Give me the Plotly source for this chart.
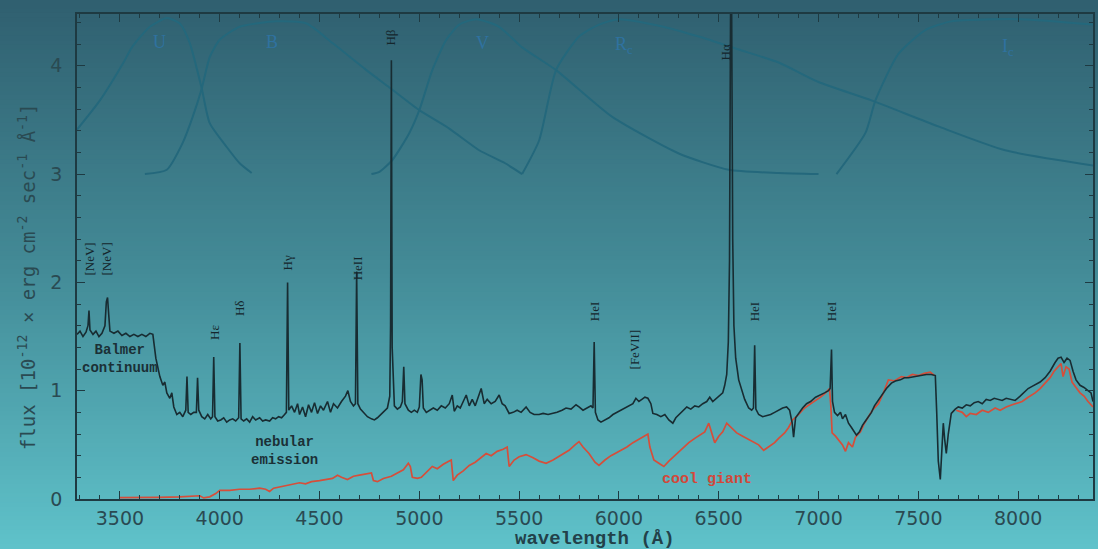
import plotly.graph_objects as go

# ---------------- data ----------------
spec_wl = [3285,3300,3315,3330,3340,3345,3350,3365,3380,3395,3410,3425,3432,3438,3444,3450,3470,3490,3510,3530,
           3550,3570,3590,3610,3630,3650,3665,3680,3700,3715,3725,3735,3750,3760,3770,3785,3800,3815,3830,3836,
           3842,3855,3870,3883,3889,3895,3910,3925,3940,3955,3964,3970,3976,3990,4005,4020,4035,4050,4065,4080,
           4095,4101,4107,4120,4135,4150,4165,4180,4200,4215,4230,4250,4265,4280,4295,4310,4325,4334,4340,4346,
           4360,4375,4390,4400,4415,4430,4445,4460,4475,4490,4505,4520,4540,4555,4570,4590,4610,4630,4642,4655,
           4670,4680,4686,4692,4705,4720,4740,4760,4775,4790,4805,4820,4840,4852,4856,4860,4864,4875,4890,4905,
           4915,4922,4928,4945,4960,4975,4990,5000,5008,5014,5020,5035,5050,5070,5090,5110,5130,5150,5165,5175,
           5190,5205,5220,5235,5250,5265,5280,5295,5310,5325,5340,5360,5380,5400,5415,5430,5450,5470,5490,5510,
           5535,5555,5575,5600,5620,5645,5665,5690,5715,5735,5760,5785,5800,5820,5840,5860,5870,5876,5882,5895,
           5910,5930,5950,5970,5990,6010,6030,6050,6070,6085,6100,6115,6130,6145,6160,6170,6190,6210,6230,6250,
           6270,6285,6300,6320,6340,6360,6380,6400,6420,6440,6455,6470,6490,6505,6520,6530,6540,6548,6554,6558,
           6562,6566,6570,6576,6585,6600,6615,6630,6650,6665,6674,6680,6686,6700,6720,6740,6760,6780,6800,6820,
           6840,6855,6868,6875,6885,6900,6920,6940,6960,6985,7010,7030,7050,7058,7065,7070,7080,7095,7110,7120,
           7135,7150,7165,7180,7190,7205,7220,7235,7250,7265,7280,7300,7320,7340,7365,7385,7410,7430,7450,7480,
           7510,7540,7565,7585,7592,7600,7610,7618,7625,7632,7640,7650,7665,7685,7700,7720,7740,7760,7780,7800,
           7820,7840,7860,7880,7900,7920,7940,7960,7985,8010,8030,8050,8070,8090,8110,8135,8160,8185,8200,8215,
           8230,8245,8260,8275,8290,8310,8330,8350,8365,8375]
spec_flux = [1.52,1.55,1.50,1.54,1.60,1.74,1.56,1.52,1.55,1.50,1.53,1.60,1.82,1.86,1.70,1.55,1.53,1.55,1.51,1.53,
             1.50,1.52,1.50,1.52,1.50,1.53,1.52,1.30,1.13,1.05,1.08,0.98,0.93,0.98,0.85,0.78,0.80,0.76,0.82,1.13,
             0.80,0.78,0.80,0.80,1.12,0.82,0.76,0.74,0.78,0.74,0.76,1.31,0.76,0.72,0.73,0.75,0.71,0.73,0.74,0.72,
             0.75,1.44,0.74,0.72,0.74,0.71,0.76,0.73,0.75,0.72,0.73,0.72,0.75,0.74,0.76,0.75,0.78,0.80,2.00,0.82,
             0.86,0.80,0.88,0.78,0.85,0.76,0.87,0.80,0.89,0.79,0.86,0.82,0.90,0.80,0.88,0.84,0.90,0.95,1.00,0.90,
             0.86,0.88,2.10,0.88,0.83,0.80,0.76,0.74,0.73,0.75,0.78,0.80,0.84,0.95,1.60,4.05,1.40,0.86,0.83,0.85,
             0.90,1.22,0.88,0.82,0.80,0.82,0.80,0.85,1.15,1.10,0.84,0.80,0.82,0.84,0.82,0.86,0.84,0.88,0.96,0.81,
             0.86,0.84,0.90,0.96,0.86,0.92,0.86,0.95,1.02,0.88,0.92,0.88,0.90,0.96,0.88,0.86,0.79,0.80,0.82,0.80,
             0.85,0.80,0.78,0.78,0.79,0.78,0.79,0.80,0.82,0.84,0.83,0.87,0.85,0.82,0.84,0.86,0.84,1.45,0.80,0.73,
             0.71,0.73,0.75,0.78,0.80,0.82,0.84,0.86,0.88,0.93,0.90,0.92,0.94,0.93,0.88,0.79,0.78,0.76,0.78,0.73,
             0.70,0.75,0.78,0.82,0.85,0.83,0.86,0.85,0.88,0.90,0.94,0.90,0.93,0.95,0.98,1.05,1.15,1.45,2.20,4.00,
             5.50,4.00,2.40,1.60,1.30,1.10,1.00,0.92,0.84,0.82,0.84,1.42,0.83,0.78,0.76,0.77,0.78,0.80,0.82,0.84,
             0.85,0.82,0.70,0.57,0.75,0.79,0.84,0.88,0.90,0.94,0.96,0.98,1.00,1.02,1.38,0.90,0.80,0.77,0.80,0.74,
             0.78,0.70,0.66,0.62,0.59,0.62,0.68,0.72,0.76,0.80,0.86,0.91,0.96,1.02,1.07,1.09,1.10,1.12,1.12,1.13,
             1.14,1.15,1.15,1.14,0.80,0.35,0.18,0.45,0.70,0.55,0.42,0.60,0.79,0.83,0.85,0.84,0.87,0.86,0.89,0.90,
             0.88,0.92,0.91,0.93,0.92,0.91,0.93,0.92,0.91,0.95,0.99,1.02,1.04,1.06,1.08,1.12,1.18,1.26,1.30,1.31,
             1.26,1.30,1.28,1.18,1.10,1.05,1.03,1.00,0.98,0.90]

giant_wl = [3500,3600,3700,3800,3860,3900,3920,3950,3980,4000,4050,4100,4150,4200,4230,4250,4270,4300,4330,4360,
            4400,4430,4460,4500,4530,4565,4590,4610,4640,4670,4700,4740,4760,4770,4790,4820,4860,4890,4920,4945,
            4955,4965,4990,5010,5030,5065,5090,5120,5150,5160,5170,5190,5220,5250,5280,5310,5335,5360,5390,5420,
            5440,5450,5475,5500,5535,5570,5600,5635,5670,5715,5750,5780,5800,5820,5850,5880,5900,5930,5960,5990,
            6010,6040,6070,6100,6135,6145,6155,6175,6200,6225,6250,6280,6300,6325,6350,6380,6410,6430,6450,6465,
            6480,6500,6520,6540,6560,6590,6620,6650,6680,6700,6725,6750,6780,6800,6830,6850,6870,6900,6930,6960,
            6985,7010,7035,7055,7062,7068,7085,7100,7120,7135,7150,7170,7185,7210,7230,7250,7270,7300,7325,7350,
            7380,7415,7440,7470,7500,7530,7560,7580,7590,7690,7720,7740,7760,7790,7820,7850,7885,7910,7940,7970,
            7990,8020,8050,8085,8110,8140,8160,8180,8200,8215,8225,8240,8255,8270,8290,8310,8330,8350,8375]
giant_flux = [0.012,0.012,0.015,0.02,0.025,0.03,0.01,0.02,0.05,0.08,0.08,0.09,0.09,0.10,0.09,0.07,0.10,0.11,0.12,0.13,
              0.15,0.14,0.16,0.17,0.18,0.19,0.22,0.20,0.18,0.21,0.22,0.23,0.24,0.17,0.16,0.19,0.21,0.24,0.27,0.33,
              0.30,0.20,0.19,0.20,0.24,0.30,0.28,0.32,0.35,0.36,0.17,0.22,0.26,0.31,0.34,0.38,0.42,0.40,0.44,0.46,
              0.48,0.30,0.36,0.39,0.41,0.38,0.35,0.33,0.36,0.41,0.45,0.50,0.53,0.48,0.42,0.34,0.31,0.36,0.40,0.43,
              0.45,0.48,0.52,0.55,0.59,0.60,0.48,0.36,0.33,0.30,0.35,0.40,0.44,0.48,0.52,0.56,0.60,0.62,0.70,0.60,
              0.52,0.58,0.62,0.70,0.66,0.61,0.58,0.55,0.52,0.50,0.45,0.48,0.52,0.56,0.61,0.66,0.73,0.78,0.84,0.88,
              0.91,0.94,0.98,1.02,0.85,0.61,0.58,0.55,0.50,0.44,0.52,0.48,0.57,0.62,0.70,0.76,0.82,0.88,0.98,1.10,
              1.09,1.13,1.12,1.15,1.14,1.16,1.17,1.14,None,0.82,0.80,0.76,0.79,0.78,0.82,0.80,0.84,0.82,0.85,0.87,
              0.88,0.90,0.94,0.98,1.02,1.08,1.12,1.18,1.22,1.25,1.13,1.22,1.20,1.08,1.03,0.98,0.95,0.90,0.85]

# filter transmission curves (plotted on the 3..4.45 band of the flux axis)
u_wl = [3285,3400,3515,3560,3650,3735,3800,3850,3910,3950,4035,4100,4160]
u_val = [3.41,3.68,4.02,4.17,4.36,4.44,4.39,4.21,3.79,3.47,3.25,3.10,3.01]
b_wl = [3625,3735,3815,3865,3910,3950,4000,4100,4285,4435,4565,4735,4850,5000,5150,5300,5430,5515]
b_val = [3.00,3.04,3.29,3.53,3.79,4.08,4.24,4.36,4.41,4.39,4.21,3.96,3.80,3.59,3.42,3.22,3.10,3.00]
v_wl = [4760,4800,4865,4950,5000,5065,5135,5200,5285,5400,5515,5685,5965,6300,6550,6800,7000]
v_val = [3.00,3.02,3.13,3.38,3.59,3.96,4.24,4.38,4.43,4.36,4.17,3.96,3.53,3.19,3.04,3.01,3.00]
r_wl = [5515,5600,5685,5800,5900,6000,6200,6400,6600,6800,7000,7265,7600,7935,8375]
r_val = [3.00,3.31,3.96,4.27,4.38,4.43,4.37,4.27,4.15,4.03,3.85,3.68,3.44,3.22,3.08]
i_wl = [7090,7235,7285,7400,7535,7665,8015,8375]
i_val = [3.00,3.38,3.68,4.11,4.33,4.41,4.43,4.38]

filter_names = ["U", "B", "V", "R<sub>c</sub>", "I<sub>c</sub>"]
filter_label_wl = [3700, 4260, 5315, 6025, 7950]
filter_label_y = [4.22, 4.22, 4.21, 4.19, 4.17]

line_names = ["[NeV]", "[NeV]", "Hε", "Hδ", "Hγ", "HeII", "Hβ", "HeI", "[FeVII]", "Hα", "HeI", "HeI"]
line_label_wl = [3350, 3435, 3970, 4100, 4340, 4688, 4858, 5878, 6080, 6535, 6680, 7065]
line_label_y = [2.22, 2.22, 1.54, 1.76, 2.18, 2.13, 4.26, 1.73, 1.38, 4.12, 1.73, 1.73]

# ---------------- figure ----------------
fig = go.Figure()

# background vertical gradient (paper-referenced bands)
top = (48, 96, 112)
mid = (68, 140, 152)
bot = (95, 194, 202)
n_bands = 120
shapes = []
for i in range(n_bands):
    t = i / (n_bands - 1)
    if t < 0.5:
        f = t / 0.5
        c = tuple(int(top[k] + (mid[k] - top[k]) * f) for k in range(3))
    else:
        f = (t - 0.5) / 0.5
        c = tuple(int(mid[k] + (bot[k] - mid[k]) * f) for k in range(3))
    y_hi = (499 - (i * 549 / n_bands)) / 485
    y_lo = (499 - ((i + 1) * 549 / n_bands)) / 485
    shapes.append(dict(type="rect", xref="paper", yref="paper", x0=-0.1, x1=1.1,
                       y0=y_lo - 0.002, y1=y_hi + 0.002, line=dict(width=0),
                       fillcolor="rgb(%d,%d,%d)" % c, layer="below"))

filt_color = "rgb(36,104,124)"
for wl, val in [(u_wl, u_val), (b_wl, b_val), (v_wl, v_val), (r_wl, r_val), (i_wl, i_val)]:
    fig.add_trace(go.Scatter(x=wl, y=val, mode="lines",
                             line=dict(color=filt_color, width=2, shape="spline", smoothing=0.6),
                             hoverinfo="skip", showlegend=False))

fig.add_trace(go.Scatter(x=giant_wl, y=giant_flux, mode="lines", line=dict(color="rgb(214,78,58)", width=1.7),
                         connectgaps=False, showlegend=False, name="cool giant"))
fig.add_trace(go.Scatter(x=spec_wl, y=spec_flux, mode="lines", line=dict(color="rgb(24,44,50)", width=1.6),
                         showlegend=False, name="spectrum"))

ann = []
for name, xw, yv in zip(filter_names, filter_label_wl, filter_label_y):
    ann.append(dict(x=xw, y=yv, text=name, showarrow=False,
                    font=dict(family="Liberation Serif", size=18, color="#2f72a0")))
for name, xw, yv in zip(line_names, line_label_wl, line_label_y):
    ann.append(dict(x=xw, y=yv, text=name, showarrow=False, textangle=-90,
                    font=dict(family="Liberation Serif", size=13, color="#15262c")))
ann.append(dict(x=3500, y=1.29, text="<b>Balmer<br>continuum</b>", showarrow=False,
                font=dict(family="Liberation Mono", size=14, color="#1b3036")))
ann.append(dict(x=4325, y=0.44, text="<b>nebular<br>emission</b>", showarrow=False,
                font=dict(family="Liberation Mono", size=14, color="#1b3036")))
ann.append(dict(x=6440, y=0.18, text="<b>cool giant</b>", showarrow=False,
                font=dict(family="Liberation Mono", size=15, color="#d2483a")))
# axis titles placed as in the reference
ann.append(dict(xref="paper", yref="paper", x=0.51, y=(499 - 539) / 485, xanchor="center", yanchor="middle",
                text="<b>wavelength (Å)</b>", showarrow=False,
                font=dict(family="Liberation Mono", size=19, color="#22414a")))
ann.append(dict(xref="paper", yref="paper", x=(27 - 77) / 1018, y=(499 - 277) / 485,
                xanchor="center", yanchor="middle", textangle=-90,
                text="flux [10<sup>-12</sup> × erg cm<sup>-2</sup> sec<sup>-1</sup> Å<sup>-1</sup>]", showarrow=False,
                font=dict(family="DejaVu Sans Mono", size=19, color="#2a4a52")))

axis_col = "#1e3a42"
tick_font = dict(family="DejaVu Sans", size=19, color="#2a4a52")
fig.update_layout(
    width=1098, height=549,
    margin=dict(l=77, r=3, t=14, b=50),
    paper_bgcolor="rgb(70,140,152)",
    plot_bgcolor="rgba(0,0,0,0)",
    shapes=shapes,
    annotations=ann,
    showlegend=False,
    xaxis=dict(range=[3285, 8375], showgrid=False, zeroline=False,
               tickmode="array", tickvals=[3500,4000,4500,5000,5500,6000,6500,7000,7500,8000],
               ticks="inside", ticklen=8, tickwidth=1.3, tickcolor=axis_col,
               minor=dict(dtick=100, tick0=3300, ticks="inside", ticklen=4, tickcolor=axis_col, showgrid=False),
               showline=True, linecolor=axis_col, linewidth=1.5, mirror="allticks",
               ticklabelstandoff=1,
               tickfont=tick_font),
    yaxis=dict(range=[0, 4.478], showgrid=False, zeroline=False,
               tickmode="array", tickvals=[0,1,2,3,4],
               ticks="inside", ticklen=8, tickwidth=1.3, tickcolor=axis_col,
               minor=dict(dtick=0.2, tick0=0, ticks="inside", ticklen=4, tickcolor=axis_col, showgrid=False),
               showline=True, linecolor=axis_col, linewidth=1.5, mirror="allticks",
               ticklabelstandoff=9,
               tickfont=tick_font),
)

fig.write_html("out.html")
